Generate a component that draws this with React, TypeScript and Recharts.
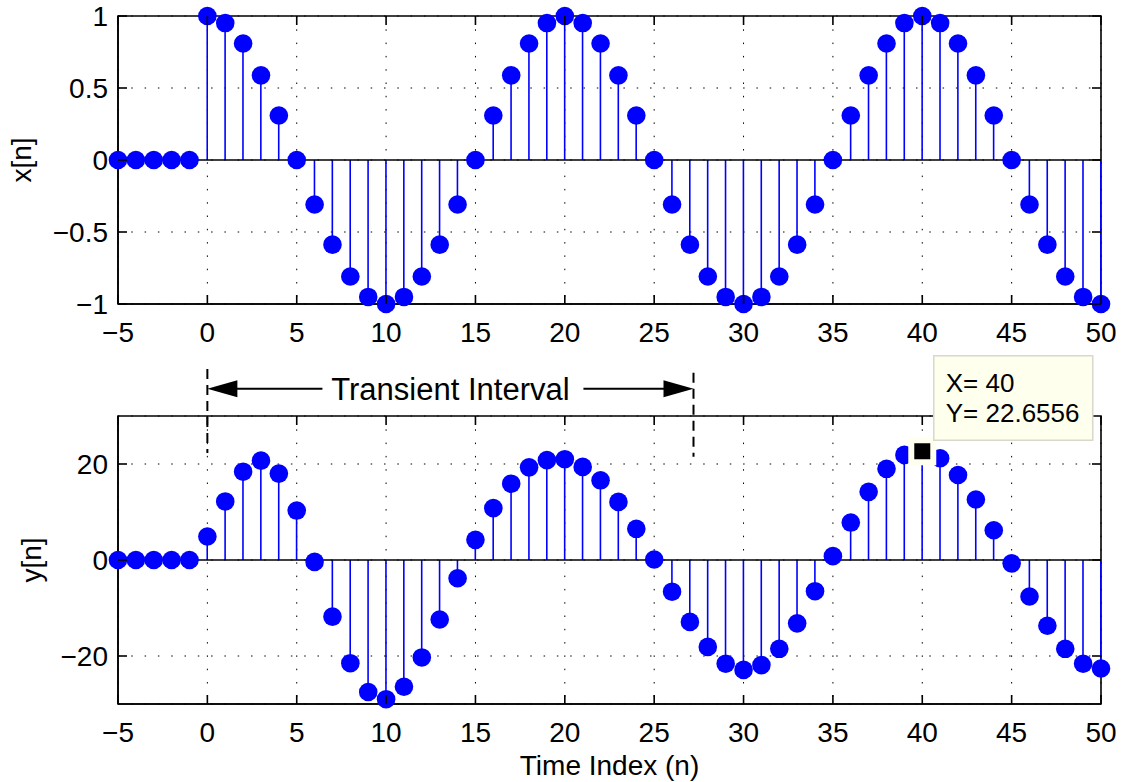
import React from 'react';
import {
  ComposedChart,
  Bar,
  Line,
  XAxis,
  YAxis,
  CartesianGrid,
  ReferenceLine,
  ReferenceDot,
  ReferenceArea,
  Label,
} from 'recharts';

// sample index n
const sampleIndex = [
  -5, -4, -3, -2, -1, 0, 1, 2, 3, 4, 5, 6, 7, 8, 9, 10, 11, 12, 13, 14, 15, 16, 17, 18, 19, 20,
  21, 22, 23, 24, 25, 26, 27, 28, 29, 30, 31, 32, 33, 34, 35, 36, 37, 38, 39, 40, 41, 42, 43, 44,
  45, 46, 47, 48, 49, 50,
];

// input x[n]
const xValues = [
  0, 0, 0, 0, 0,
  1, 0.951, 0.809, 0.588, 0.309, 0, -0.309, -0.588, -0.809, -0.951,
  -1, -0.951, -0.809, -0.588, -0.309, 0, 0.309, 0.588, 0.809, 0.951,
  1, 0.951, 0.809, 0.588, 0.309, 0, -0.309, -0.588, -0.809, -0.951,
  -1, -0.951, -0.809, -0.588, -0.309, 0, 0.309, 0.588, 0.809, 0.951,
  1, 0.951, 0.809, 0.588, 0.309, 0, -0.309, -0.588, -0.809, -0.951,
  -1,
];

// output y[n]
const yValues = [
  0, 0, 0, 0, 0,
  4.9, 12.2, 18.4, 20.7, 18.0, 10.3, -0.4, -11.8, -21.5, -27.5,
  -29.0, -26.4, -20.3, -12.4, -3.8, 4.2, 10.8, 15.9, 19.3, 20.8,
  21.0, 19.4, 16.6, 12.1, 6.5, 0.1, -6.6, -12.9, -18.1, -21.6,
  -22.9, -21.9, -18.5, -13.2, -6.5, 0.8, 7.8, 14.2, 19.0, 21.9,
  22.6556, 21.2, 17.7, 12.6, 6.2, -0.7, -7.6, -13.7, -18.5, -21.6,
  -22.6,
];

const timeTicks = [-5, 0, 5, 10, 15, 20, 25, 30, 35, 40, 45, 50];
const xTicks = [-1, -0.5, 0, 0.5, 1];
const yTicks = [-20, 0, 20];

const transientStart = 0;
const transientEnd = 27.2;
const tipIndex = 40;

const topData = sampleIndex.map((n, i) => ({ n, v: xValues[i] }));
const bottomData = sampleIndex.map((n, i) => ({ n, v: yValues[i] }));

const BLUE = '#0000ff';
const FONT = '"Liberation Sans", Arial, Helvetica, sans-serif';
const CHART_W = 1121;
const LEFT_W = 118;
const RIGHT_M = 20;
const PLOT_W = CHART_W - LEFT_W - RIGHT_M;
const PLOT_H = 288;
const TICK_LEN = 9;
const X_GAP = 18;
const Y_GAP = 10;
const frameLine = { stroke: '#000', strokeWidth: 1.6 };
const fmt = (v: number) => String(v).replace('-', '\u2212');

// tick label plus inward tick marks at bottom and top edges
const TimeTick = (props: any) => {
  const { x, y, payload } = props;
  const bottom = y - X_GAP;
  const top = bottom - PLOT_H;
  return (
    <g>
      <line x1={x} x2={x} y1={bottom} y2={bottom - TICK_LEN} {...frameLine} />
      <line x1={x} x2={x} y1={top} y2={top + TICK_LEN} {...frameLine} />
      <text x={x} y={y} dy="0.71em" textAnchor="middle" fontSize={28} fill="#000">
        {fmt(payload.value)}
      </text>
    </g>
  );
};

// tick label plus inward tick marks at left and right edges
const ValueTick = (props: any) => {
  const { x, y, payload } = props;
  const left = x + Y_GAP;
  const right = left + PLOT_W;
  return (
    <g>
      <line x1={left} x2={left + TICK_LEN} y1={y} y2={y} {...frameLine} />
      <line x1={right} x2={right - TICK_LEN} y1={y} y2={y} {...frameLine} />
      <text x={x} y={y} dy="0.355em" textAnchor="end" fontSize={28} fill="#000">
        {fmt(payload.value)}
      </text>
    </g>
  );
};

const yTitle = (text: string, baseX: number) => (props: any) => {
  const vb = props.viewBox || {};
  const cy = vb.y + vb.height / 2;
  return (
    <text x={baseX} y={cy} transform={`rotate(-90, ${baseX}, ${cy})`} textAnchor="middle"
      fontSize={28} fill="#000">
      {text}
    </text>
  );
};

const xTitle = (props: any) => {
  const vb = props.viewBox || {};
  return (
    <text x={vb.x + vb.width / 2} y={vb.y + 71} textAnchor="middle" fontSize={28} fill="#000">
      Time Index (n)
    </text>
  );
};

const TransientArrow = (props: any) => {
  const { x1, x2, y1 } = props;
  const mid = (x1 + x2) / 2;
  return (
    <g>
      <line x1={x1 + 28} x2={mid - 128} y1={y1} y2={y1} stroke="#000" strokeWidth={2} />
      <polygon points={`${x1},${y1} ${x1 + 30},${y1 - 8.5} ${x1 + 30},${y1 + 8.5}`} fill="#000" />
      <line x1={mid + 133} x2={x2 - 28} y1={y1} y2={y1} stroke="#000" strokeWidth={2} />
      <polygon points={`${x2},${y1} ${x2 - 30},${y1 - 8.5} ${x2 - 30},${y1 + 8.5}`} fill="#000" />
      <text x={mid} y={y1 + 11.5} textAnchor="middle" fontSize={31} fill="#000">
        Transient Interval
      </text>
    </g>
  );
};

const DataTip = (props: any) => {
  const { cx, cy } = props;
  return (
    <g>
      <rect x={cx - 14} y={cy - 14} width={28} height={28} fill="#fffff0" />
      <rect x={cx - 8} y={cy - 8} width={16} height={16} fill="#000" />
      <rect x={cx + 11.5} y={cy - 95.5} width={159} height={84.5} fill="#ffffee"
        stroke="#d8d8cc" strokeWidth={1.5} />
      <text x={cx + 23.5} y={cy - 59.5} fontSize={26} fill="#000">{`X= ${tipIndex}`}</text>
      <text x={cx + 23.5} y={cy - 29.5} fontSize={26} fill="#000">
        {`Y= ${yValues[sampleIndex.indexOf(tipIndex)]}`}
      </text>
    </g>
  );
};

const stemDot = { r: 9.3, fill: BLUE, stroke: 'none', clipDot: false };

export default function App() {
  return (
    <div style={{ position: 'absolute', left: 0, top: 0, width: 1121, height: 782, background: '#fff', fontFamily: FONT }}>
      <div style={{ position: 'absolute', left: 0, top: 0 }}>
        <ComposedChart width={CHART_W} height={350} data={topData}
          margin={{ top: 16, right: RIGHT_M, left: 0, bottom: 0 }}>
          <CartesianGrid xAxisId="x" yAxisId="y" stroke="#000" strokeDasharray="1.5 11.8" />
          <XAxis xAxisId="x" dataKey="n" type="number" domain={[-5, 50]} ticks={timeTicks}
            interval={0} allowDataOverflow height={46} tickLine={false} tickSize={0} tickMargin={X_GAP}
            axisLine={frameLine} tick={<TimeTick />} />
          <YAxis yAxisId="y" type="number" domain={[-1, 1]} ticks={xTicks} interval={0}
            allowDataOverflow width={LEFT_W} tickLine={false} tickSize={0} tickMargin={Y_GAP}
            axisLine={frameLine} tick={<ValueTick />}>
            <Label content={yTitle('x[n]', 30.8)} />
          </YAxis>
          <ReferenceArea xAxisId="x" yAxisId="y" x1={-5} x2={50} y1={-1} y2={1}
            fill="none" fillOpacity={0} stroke="#000" strokeWidth={1.6} ifOverflow="visible" />
          <Bar xAxisId="x" yAxisId="y" dataKey="v" fill={BLUE} barSize={1.6} isAnimationActive={false} />
          <ReferenceLine xAxisId="x" yAxisId="y" y={0} stroke="#000" strokeWidth={1.6} />
          <Line xAxisId="x" yAxisId="y" dataKey="v" stroke="none" isAnimationActive={false}
            dot={stemDot} activeDot={false} />
        </ComposedChart>
      </div>
      <div style={{ position: 'absolute', left: 0, top: 340 }}>
        <ComposedChart width={CHART_W} height={442} data={bottomData}
          margin={{ top: 76, right: RIGHT_M, left: 0, bottom: 0 }}>
          <CartesianGrid xAxisId="x" yAxisId="y" stroke="#000" strokeDasharray="1.5 11.8" />
          <XAxis xAxisId="x" dataKey="n" type="number" domain={[-5, 50]} ticks={timeTicks}
            interval={0} allowDataOverflow height={78} tickLine={false} tickSize={0} tickMargin={X_GAP}
            axisLine={frameLine} tick={<TimeTick />}>
            <Label content={xTitle} />
          </XAxis>
          <YAxis yAxisId="y" type="number" domain={[-30, 30]} ticks={yTicks} interval={0}
            allowDataOverflow width={LEFT_W} tickLine={false} tickSize={0} tickMargin={Y_GAP}
            axisLine={frameLine} tick={<ValueTick />}>
            <Label content={yTitle('y[n]', 40.8)} />
          </YAxis>
          <ReferenceArea xAxisId="x" yAxisId="y" x1={-5} x2={50} y1={-30} y2={30}
            fill="none" fillOpacity={0} stroke="#000" strokeWidth={1.6} ifOverflow="visible" />
          <Bar xAxisId="x" yAxisId="y" dataKey="v" fill={BLUE} barSize={1.6} isAnimationActive={false} />
          <ReferenceLine xAxisId="x" yAxisId="y" y={0} stroke="#000" strokeWidth={1.6} />
          <Line xAxisId="x" yAxisId="y" dataKey="v" stroke="none" isAnimationActive={false}
            dot={stemDot} activeDot={false} />
          <ReferenceLine xAxisId="x" yAxisId="y" ifOverflow="visible" stroke="#000" strokeWidth={2}
            strokeDasharray="10 6"
            segment={[{ x: transientStart, y: 39.8 }, { x: transientStart, y: 22.3 }]} />
          <ReferenceLine xAxisId="x" yAxisId="y" ifOverflow="visible" stroke="#000" strokeWidth={2}
            strokeDasharray="10 6"
            segment={[{ x: transientEnd, y: 39 }, { x: transientEnd, y: 21.5 }]} />
          <ReferenceLine xAxisId="x" yAxisId="y" ifOverflow="visible"
            segment={[{ x: transientStart, y: 35.7 }, { x: transientEnd, y: 35.7 }]}
            shape={TransientArrow} />
          <ReferenceDot xAxisId="x" yAxisId="y" x={tipIndex} y={yValues[sampleIndex.indexOf(tipIndex)]}
            ifOverflow="visible" shape={DataTip} zIndex={2500} />
        </ComposedChart>
      </div>
    </div>
  );
}
